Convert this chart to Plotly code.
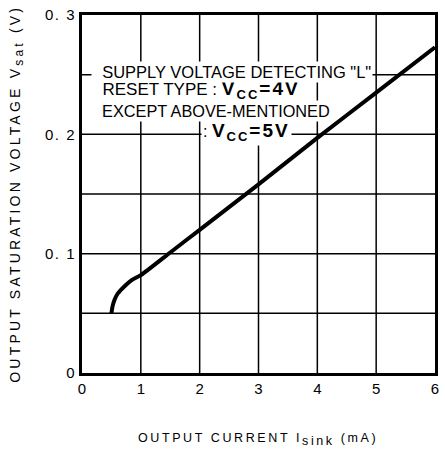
import plotly.graph_objects as go

# Data
current_ma = [0.5, 0.52, 0.55, 0.6, 0.67, 0.75, 0.85, 1.0, 1.5, 2.0, 3.0, 4.0, 5.0, 6.0]
vsat_v = [0.050, 0.056, 0.061, 0.066, 0.070, 0.074, 0.078, 0.082, 0.101, 0.120, 0.158, 0.197, 0.235, 0.273]

x_ticks = [0, 1, 2, 3, 4, 5, 6]
x_tick_text = ["0", "1", "2", "3", "4", "5", "6"]
y_ticks = [0, 0.1, 0.2, 0.3]
y_tick_text = ["0", "0. 1", "0. 2", "0. 3"]
x_grid = [1, 2, 3, 4, 5]
y_grid = [0.05, 0.1, 0.15, 0.2, 0.25]

VCC = ('<b><span style="font-size:19px;letter-spacing:2px">V<sub><span style="font-size:13px">CC</span></sub>'
       '={v}</span></b>')
LEAD = "\u00a0\u00a0"
note_line1 = LEAD + 'SUPPLY VOLTAGE DETECTING "L"'
note_line2 = LEAD + 'RESET TYPE : ' + VCC.format(v="4V")
note_line3 = LEAD + 'EXCEPT ABOVE-MENTIONED'
note_line4 = ': ' + VCC.format(v="5V")

FONT = 'Arial, "Liberation Sans", sans-serif'

fig = go.Figure()
fig.add_trace(go.Scatter(
    x=current_ma, y=vsat_v, mode="lines",
    line=dict(color="black", width=4, shape="spline", smoothing=0.6),
    hoverinfo="skip", showlegend=False,
))

shapes = []
for gx in x_grid:
    shapes.append(dict(type="line", xref="x", yref="y", x0=gx, x1=gx, y0=0, y1=0.3,
                       line=dict(color="black", width=1.5), layer="below"))
for gy in y_grid:
    shapes.append(dict(type="line", xref="x", yref="y", x0=0, x1=6, y0=gy, y1=gy,
                       line=dict(color="black", width=1.5), layer="below"))


def note(text, x, y, size):
    return dict(x=x, y=y, xref="x", yref="y", text=text, showarrow=False,
                xanchor="left", yanchor="middle", bgcolor="white", borderpad=1,
                font=dict(family=FONT, size=size, color="black"))


# order matters: taller Vcc lines first so plain lines sit on top
annotations = [
    note(note_line2, 0.151, 0.2369, 17),
    note(note_line4, 2.015, 0.2022, 16),
    note(note_line3, 0.151, 0.2197, 16.3),
    note(note_line1, 0.151, 0.2525, 16.5),
]

# axis titles
annotations.append(dict(
    x=0.498, y=-0.187, xref="paper", yref="paper", showarrow=False, xanchor="center", yanchor="middle",
    text='<span style="letter-spacing:2.6px">OUTPUT CURRENT I<sub><span style="font-size:12.5px">sink</span></sub> (mA)</span>',
    font=dict(family=FONT, size=12.5, color="black")))
annotations.append(dict(
    x=-0.1877, y=0.5, xref="paper", yref="paper", showarrow=False, xanchor="center", yanchor="middle",
    textangle=-90,
    text='<span style="letter-spacing:3.2px">OUTPUT SATURATION VOLTAGE V<sub><span style="font-size:12px">sat</span></sub> (V)</span>',
    font=dict(family=FONT, size=14, color="black")))

fig.update_layout(
    width=445, height=450,
    margin=dict(l=82, r=6, t=15, b=77),
    paper_bgcolor="white", plot_bgcolor="white",
    shapes=shapes, annotations=annotations,
    font=dict(family=FONT, color="black"),
    showlegend=False,
)
fig.update_xaxes(range=[0, 6], tickvals=x_ticks, ticktext=x_tick_text, showgrid=False, zeroline=False,
                 showline=True, linecolor="black", linewidth=3, mirror=True, ticks="",
                 ticklabeloverflow="allow",
                 tickfont=dict(size=15, family=FONT, color="black"), fixedrange=True)
fig.update_yaxes(range=[0, 0.3], tickvals=y_ticks,
                 ticktext=['<span style="letter-spacing:1.5px">%s</span>' % t for t in y_tick_text],
                 showgrid=False, zeroline=False,
                 showline=True, linecolor="black", linewidth=3, mirror=True, ticks="",
                 tickfont=dict(size=15, family=FONT, color="black"), fixedrange=True)

fig.write_html(
    "out.html",
    config=dict(displayModeBar=False),
    post_script="document.body.style.margin='0';document.body.style.overflow='hidden';",
)
